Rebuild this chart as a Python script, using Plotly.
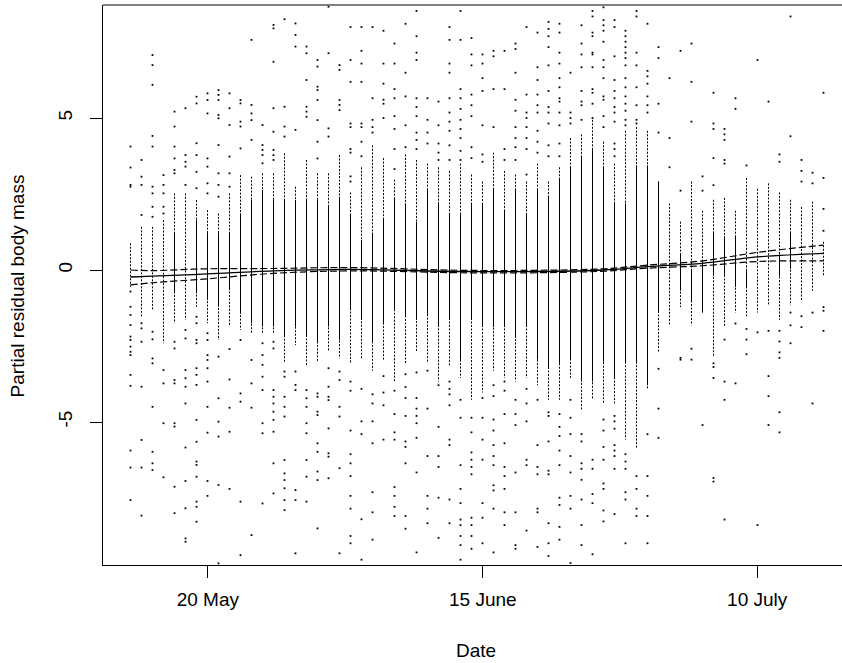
import plotly.graph_objects as go

# ---- data ----
days = list(range(64))  # day index of each vertical strip

dot_top = [0.88, 1.42, 1.42, 1.64, 2.52, 2.52, 2.30, 1.97, 1.86, 2.52,
           3.12, 3.07, 3.18, 3.18, 3.84, 2.74, 3.62, 3.18, 3.18, 3.78,
           2.55, 3.38, 4.10, 3.68, 2.97, 3.80, 3.62, 3.50, 3.38, 3.26,
           3.50, 3.14, 2.91, 3.86, 3.26, 3.14, 2.91, 3.50, 2.91, 3.38,
           4.34, 4.46, 4.94, 4.22, 3.50, 4.58, 4.70, 4.58, 2.91, 2.19,
           1.59, 2.91, 1.95, 2.31, 2.37, 1.95, 3.03, 2.67, 2.85, 2.55,
           2.31, 2.07, 2.25, 0.93]
dot_bot = [-0.55, -1.54, -1.32, -2.41, -1.75, -1.64, -1.21, -1.75, -2.30, -1.86,
           -1.97, -2.08, -2.08, -2.08, -3.07, -2.47, -3.18, -3.02, -2.69, -2.91,
           -3.07, -2.95, -3.31, -2.95, -3.67, -3.07, -2.71, -3.07, -3.67, -3.19,
           -3.55, -4.27, -4.03, -3.31, -3.55, -3.67, -3.55, -3.79, -4.27, -4.27,
           -3.55, -4.62, -4.27, -4.39, -4.39, -5.58, -5.88, -3.91, -2.71, -1.82,
           -1.22, -1.82, -1.40, -2.83, -1.88, -1.40, -1.52, -1.40, -1.16, -1.64,
           -1.16, -1.04, -0.68, -0.20]
core_top = [None, None, None, None, 1.21, None, 1.64, 1.21, 1.21, 1.21,
            1.86, 2.30, 2.63, 2.30, 2.30, 2.30, 2.30, 2.30, 2.08, 2.41,
            1.83, 0.99, 1.23, 1.71, 2.37, 2.19, 1.59, 2.67, 2.19, 1.83,
            1.83, 2.19, 2.19, 2.67, 1.95, 2.67, 1.83, 2.67, 2.43, 3.03,
            3.38, 3.74, 3.98, 3.38, 2.19, 2.19, 3.44, 3.44, 2.91, None,
            0.51, 0.04, 0.27, 1.23, 1.11, 1.11, 0.04, None, None, 0.51,
            1.23, None, None, None]
core_bot = [None, None, None, None, -0.77, None, -0.77, -0.99, -1.21, -0.66,
            -1.43, -1.75, -1.86, -1.86, -2.19, -1.86, -2.19, -2.41, -1.86, -2.30,
            -1.28, -1.64, -2.35, -1.76, -1.28, -1.52, -1.64, -1.52, -1.88, -1.64,
            -2.95, -1.64, -1.88, -1.88, -1.88, -2.23, -1.88, -2.95, -3.19, -3.07,
            -2.95, -3.67, -3.67, -3.07, -3.55, -3.07, -3.07, -3.79, -1.40, None,
            -0.68, -1.04, -1.40, -0.20, -0.20, -0.56, -0.56, None, None, -0.20,
            0.04, None, None, None]
scatter_pts = [
    [4.06, 3.37, 2.80, 2.74, -0.71, -1.21, -1.48, -1.81, -2.19, -2.30, -2.52, -2.69, -2.80, -3.45, -3.81, -5.94, -6.50, -7.57],
    [3.62, 3.07, 2.80, 1.81, -1.75, -1.92, -2.36, -3.84, -5.59, -6.50, -8.08],
    [7.07, 6.74, 6.09, 4.41, 4.06, 2.74, 2.52, 2.08, 1.75, -2.03, -2.28, -2.91, -3.07, -4.50, -5.98, -6.36, -6.58],
    [3.12, 2.80, 2.52, 2.08, 1.86, -3.29, -3.73, -5.04, -6.82],
    [5.21, 4.72, 4.06, 3.67, 3.29, 3.18, -2.36, -2.58, -3.62, -3.73, -5.04, -5.15, -7.13, -8.00],
    [5.32, 3.78, 3.56, 3.40, 2.80, -1.97, -2.25, -3.29, -3.56, -3.84, -4.39, -5.84, -6.94, -7.84, -8.83, -8.94],
    [5.70, 5.48, 4.17, 3.78, 3.23, 2.69, -1.54, -1.75, -2.30, -2.41, -3.23, -3.45, -3.78, -4.93, -5.65, -6.30, -6.41, -6.80, -7.62, -7.79, -8.28],
    [5.81, 5.59, 5.15, 3.67, 3.40, 2.85, 2.52, -2.08, -2.30, -2.80, -2.96, -3.23, -3.67, -4.50, -5.35, -6.94, -7.43],
    [5.92, 5.76, 5.59, 5.10, 4.99, 4.11, 3.18, 2.80, 2.41, -2.85, -4.22, -4.99, -5.48, -7.07, -9.65],
    [5.81, 5.32, 4.77, 3.73, 3.18, 2.74, -2.60, -3.60, -4.53, -5.32, -7.20],
    [5.59, 5.48, 4.88, 4.72, 4.00, -2.30, -4.06, -4.33, -7.62, -9.38],
    [7.57, 5.43, 5.15, 4.93, 4.28, -2.96, -3.73, -4.53, -8.72],
    [4.77, 4.11, 3.95, 3.78, 3.51, -2.41, -2.80, -3.12, -3.51, -3.95, -5.04, -5.37, -7.68],
    [8.06, 7.95, 6.85, 5.32, 4.55, 3.95, 3.78, 3.62, -2.36, -2.58, -3.95, -4.17, -4.39, -4.66, -4.93, -5.32, -6.36, -7.35],
    [8.25, 5.37, 4.72, 4.39, -3.34, -3.51, -4.17, -4.50, -4.82, -6.25, -6.69, -6.91, -7.18, -7.57, -7.90],
    [8.11, 7.73, 7.35, 4.61, -3.34, -3.78, -3.95, -7.24, -7.57, -9.32],
    [7.35, 7.13, 6.25, 5.37, 5.21, 5.04, -3.95, -4.22, -4.50, -5.04, -5.37, -6.25, -6.80, -7.62],
    [6.91, 6.69, 6.03, 5.92, 5.59, 4.93, 4.22, 3.67, -4.06, -4.17, -4.66, -4.77, -5.70, -5.98, -6.63, -6.91, -8.50],
    [8.66, 7.13, 4.66, 4.39, -3.23, -3.84, -4.17, -4.28, -5.21, -6.03, -6.14, -6.85],
    [6.74, 6.58, 5.59, 5.43, 5.26, -3.34, -3.62, -4.50, -4.82, -6.52, -9.32],
    [7.99, 6.91, 6.19, 4.82, 4.70, 3.98, 3.86, 3.08, 2.91, -3.67, -3.97, -5.28, -6.06, -6.36, -6.78, -7.43, -7.85, -8.75, -8.99],
    [7.99, 7.21, 6.79, 6.19, 4.82, 4.70, 4.22, 3.74, -3.91, -4.98, -5.40, -8.20, -9.53],
    [7.99, 5.65, 4.94, 4.70, 4.52, -4.09, -4.39, -4.98, -5.70, -7.31, -7.97, -8.87],
    [7.87, 6.79, 6.13, 5.60, 5.47, 5.00, -3.49, -4.03, -4.45, -5.58],
    [7.45, 6.79, 5.95, 5.65, 5.06, 4.64, 3.98, 3.32, -3.97, -4.74, -5.34, -5.58, -7.14, -7.43, -7.79, -8.09],
    [8.10, 6.49, 5.71, 4.76, 4.04, -3.43, -3.85, -4.21, -4.80, -5.64, -5.82, -6.36, -8.09, -8.51],
    [8.52, 7.69, 7.15, 6.91, 5.65, 5.36, 5.06, 4.52, 4.28, 3.98, -3.37, -4.21, -4.56, -4.80, -5.04, -5.52, -6.66, -9.29],
    [5.65, 4.94, 4.52, 4.16, -3.31, -4.56, -6.12, -7.43, -7.85, -8.33],
    [5.54, 4.76, 4.16, 3.86, 3.62, -3.79, -5.16, -6.12, -6.48, -7.49, -8.81],
    [7.99, 7.57, 6.79, 6.49, 5.65, 5.18, 4.88, 4.58, 4.10, 3.62, -3.67, -3.91, -4.09, -4.45, -5.58, -5.76, -7.55, -8.33],
    [8.52, 7.57, 5.95, 5.65, 5.30, 4.94, 4.64, 4.34, 3.92, 3.62, -4.27, -4.86, -6.42, -7.20, -7.67, -8.21, -8.39, -8.75, -9.05, -9.53],
    [7.63, 7.09, 6.73, 5.77, 5.42, 5.06, 4.04, 3.68, -4.86, -5.34, -6.00, -6.24, -6.48, -6.72, -8.15, -8.39, -8.75, -9.17],
    [7.09, 6.79, 6.31, 5.89, 4.76, 3.80, 3.56, -4.21, -4.86, -5.58, -6.24, -7.67, -8.15, -8.99],
    [7.21, 7.03, 5.95, 4.70, -3.79, -4.15, -4.92, -5.28, -5.76, -6.12, -6.42, -7.08, -7.25, -7.85, -9.29],
    [7.21, 5.95, 3.98, 3.62, -3.67, -3.97, -4.74, -5.70, -6.48, -6.78, -7.20, -7.97, -8.39],
    [7.45, 7.27, 6.49, 5.60, 5.24, 4.70, 4.34, 4.04, 3.62, -4.27, -4.74, -5.10, -6.66, -7.97, -9.05, -9.17],
    [7.99, 5.77, 5.18, 5.00, 4.70, 4.34, 3.98, 3.14, -3.91, -4.39, -4.98, -6.24, -6.42, -8.57],
    [7.81, 6.67, 6.25, 5.77, 5.42, 5.18, 4.58, 4.22, 3.86, -4.27, -5.76, -6.48, -6.72, -7.85, -7.97, -9.11],
    [8.16, 7.93, 7.69, 7.33, 6.73, 5.89, 5.36, 5.18, 4.82, 4.10, 3.74, -4.68, -4.80, -5.64, -6.60, -6.72, -8.33, -8.99, -9.41],
    [8.10, 7.81, 7.15, 6.79, 6.31, 6.01, 5.65, 5.54, 5.18, 4.76, 4.16, 3.74, -4.74, -5.16, -5.46, -5.94, -6.42, -7.49, -7.73, -8.45, -8.87],
    [6.49, 5.18, 5.00, 4.82, -4.27, -4.86, -5.40, -6.12, -6.66, -7.43, -7.85, -9.64],
    [8.05, 7.45, 7.09, 6.67, 5.89, 5.54, 5.42, 4.94, -5.40, -5.64, -6.36, -6.54, -6.90, -7.55, -8.39, -9.05],
    [8.52, 8.34, 7.81, 7.69, 7.15, 7.09, 6.67, 5.95, 5.83, 5.47, 5.00, -6.24, -6.54, -7.37, -7.67, -9.35],
    [8.64, 8.22, 8.05, 7.87, 7.51, 6.91, 6.67, 6.31, 5.71, 5.60, 5.06, 4.70, -4.92, -5.28, -5.82, -6.24, -7.02, -7.20, -7.91, -8.27],
    [8.22, 7.99, 7.03, 6.25, 5.89, 5.65, 5.36, 5.18, 4.88, 4.16, 3.98, 3.74, -4.80, -4.98, -5.22, -5.76, -5.94, -6.12, -6.54, -8.03],
    [7.87, 7.69, 7.51, 7.33, 7.15, 6.97, 6.73, 6.31, 6.01, 5.71, 5.47, 5.24, 4.94, 4.76, -6.06, -6.30, -6.54, -7.31, -7.55, -8.99],
    [8.52, 8.34, 7.15, 6.73, 6.01, 5.42, 4.94, 4.82, -6.78, -7.20, -7.85, -8.09],
    [8.10, 6.55, 6.37, 6.13, 5.71, 5.42, 5.18, -5.40, -6.78, -7.43, -8.09, -8.99],
    [7.33, 6.97, 5.47, 4.52, -3.25, -4.56, -5.52],
    [6.31, 4.34, 3.38],
    [7.21, 2.61, -2.89, -2.95],
    [7.45, 6.19, 4.88, -2.59, -2.95],
    [3.08, 2.61, -5.10],
    [5.83, 4.82, 4.64, 3.68, 2.79, -3.07, -3.19, -3.55, -6.84, -6.96],
    [4.64, 4.46, 4.28, 3.62, 3.50, -2.29, -3.67, -4.27, -8.21],
    [5.65, 5.30, -1.76, -3.73],
    [3.44, -1.94, -2.29, -2.77],
    [6.91, -2.05, -8.39],
    [5.54, -2.00, -3.49, -4.15, -5.10],
    [3.80, 3.56, -2.00, -2.35, -2.71, -2.89, -4.68, -5.34],
    [8.34, 4.40, -1.40, -1.82, -2.41],
    [3.62, 3.26, 2.91, -1.52, -1.88],
    [3.20, 2.85, -1.40, -4.39],
    [5.83, 3.03, 2.01, 1.29, -1.22, -1.34, -2.00],
]

fit_days = [0, 2, 7, 13, 20, 30, 37, 43, 47, 52, 57, 63]
fit_val = [-0.23, -0.20, -0.13, -0.03, 0.02, -0.05, -0.05, 0.00, 0.11, 0.22, 0.43, 0.55]
fit_upper = [0.00, -0.02, 0.04, 0.05, 0.08, -0.01, -0.01, 0.04, 0.16, 0.30, 0.58, 0.82]
fit_lower = [-0.49, -0.42, -0.29, -0.11, -0.03, -0.09, -0.09, -0.04, 0.06, 0.14, 0.28, 0.30]

tick_pos = [7.03, 32.03, 56.97]
tick_text = ["20 May", "15 June", "10 July"]

# ---- build traces ----
dx, dy = [], []
for d, t, b in zip(days, dot_top, dot_bot):
    dx += [d, d, None]
    dy += [t, b, None]
cx, cy = [], []
for d, t, b in zip(days, core_top, core_bot):
    if t is None:
        continue
    cx += [d, d, None]
    cy += [t, b, None]
px, py = [], []
for d, pts in zip(days, scatter_pts):
    px += [d] * len(pts)
    py += pts

FONT = "Liberation Sans, Arial, sans-serif"
fig = go.Figure()
fig.add_trace(go.Scatter(x=dx, y=dy, mode="lines", hoverinfo="skip",
                         line=dict(color="black", width=1, dash="2px,1.5px")))
fig.add_trace(go.Scatter(x=cx, y=cy, mode="lines", hoverinfo="skip",
                         line=dict(color="black", width=1)))
fig.add_trace(go.Scatter(x=px, y=py, mode="markers", hoverinfo="skip",
                         marker=dict(symbol="square", size=1.8, color="black", line=dict(width=0))))
fig.add_trace(go.Scatter(x=fit_days, y=fit_val, mode="lines", hoverinfo="skip",
                         line=dict(color="black", width=1.3, shape="spline")))
for arr in (fit_upper, fit_lower):
    fig.add_trace(go.Scatter(x=fit_days, y=arr, mode="lines", hoverinfo="skip",
                             line=dict(color="black", width=1.2, dash="7px,3px", shape="spline")))

axis_common = dict(showgrid=False, zeroline=False, showline=True, linecolor="black",
                   linewidth=1, ticks="outside", ticklen=12, tickcolor="black", tickwidth=1,
                   tickfont=dict(family=FONT, size=19, color="black"))
# 11 px per day over a 739 px wide plot area
fig.update_xaxes(range=[-2.5, -2.5 + 739 / 11], tickvals=tick_pos, ticktext=tick_text,
                 ticklabelstandoff=5, **axis_common)
fig.update_yaxes(range=[-9.704, 8.717], tickvals=[-5, 0, 5], ticktext=["-5", "0", "5"],
                 tickangle=-90, ticklabelstandoff=10, **axis_common)

fig.add_shape(type="line", xref="paper", yref="paper", x0=0, x1=1, y0=1, y1=1,
              line=dict(color="black", width=1))
fig.add_annotation(text="Date", xref="paper", yref="paper", x=0.5047, y=-0.1518,
                   showarrow=False, xanchor="center", yanchor="middle",
                   font=dict(family=FONT, size=19, color="black"))
fig.add_annotation(text="Partial residual body mass", xref="paper", yref="paper",
                   x=-0.116, y=0.498, textangle=-90, showarrow=False,
                   xanchor="center", yanchor="middle",
                   font=dict(family=FONT, size=19, color="black"))

fig.update_layout(width=842, height=663, margin=dict(l=103, r=0, t=5, b=98),
                  paper_bgcolor="white", plot_bgcolor="white", showlegend=False,
                  hovermode=False)
fig.write_html("out.html", config={"displayModeBar": False, "staticPlot": True},
               post_script="document.body.style.margin='0px';document.body.style.overflow='hidden';")
